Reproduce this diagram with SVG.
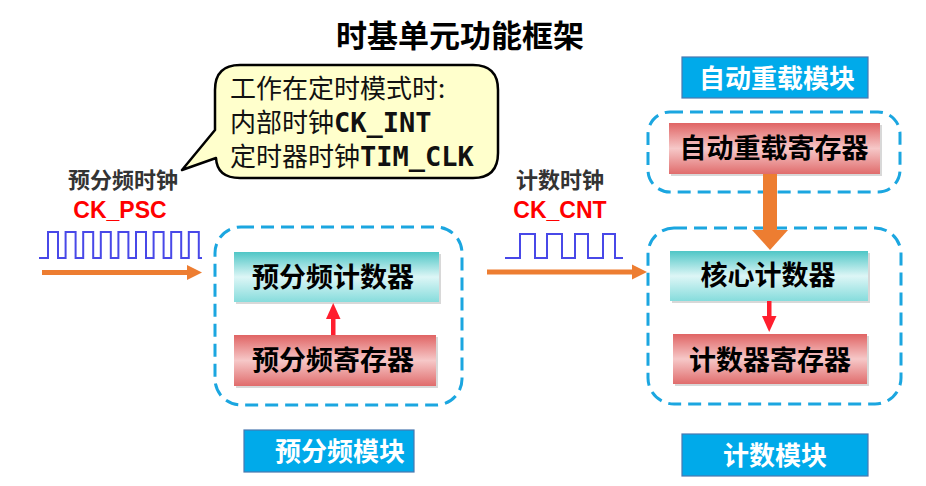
<svg xmlns="http://www.w3.org/2000/svg" width="926" height="486" viewBox="0 0 926 486">
<defs>
<linearGradient id="gCyan" x1="0" y1="0" x2="0" y2="1">
<stop offset="0" stop-color="#4FC6C6"/>
<stop offset="0.5" stop-color="#DDF6F6"/>
<stop offset="1" stop-color="#86DCDC"/>
</linearGradient>
<linearGradient id="gPink" x1="0" y1="0" x2="0" y2="1">
<stop offset="0" stop-color="#E06464"/>
<stop offset="0.5" stop-color="#F6C8C8"/>
<stop offset="1" stop-color="#E06C6C"/>
</linearGradient>
<style>
.title{font-family:"Noto Sans CJK SC","Noto Sans",sans-serif;font-weight:700;font-size:31px;fill:#000}
.box{font-family:"Noto Sans CJK SC","Noto Sans",sans-serif;font-weight:700;font-size:27px;fill:#000;text-anchor:middle}
.lbl{font-family:"Noto Sans CJK SC","Noto Sans",sans-serif;font-weight:700;font-size:26px;fill:#fff;text-anchor:middle}
.clk{font-family:"Noto Sans CJK SC","Noto Sans",sans-serif;font-weight:700;font-size:22px;fill:#333;text-anchor:middle}
.sig{font-family:"Liberation Sans",Arial,sans-serif;font-weight:700;font-size:23px;fill:#FF0000;text-anchor:middle}
.note{font-family:"Noto Sans CJK SC","Noto Sans",sans-serif;font-weight:400;font-size:26px;fill:#111}
.mono{font-family:"DejaVu Sans Mono","Liberation Mono",monospace;font-weight:700;font-size:27px}
.dash{fill:none;stroke:#1BA6E0;stroke-width:3;stroke-dasharray:13 7}
.shadow{fill:#D8D8D8}
.cyan{fill:url(#gCyan)}
.pink{fill:url(#gPink)}
.tag{fill:#00AAEA;stroke:#4A78B0;stroke-width:1.2}
.wave{fill:none;stroke:#4848E8;stroke-width:2}
.orange{fill:#ED7D31}
.red{fill:#FF1E2E}
</style>
</defs>
<rect width="926" height="486" fill="#fff"/>
<text class="title" x="460" y="47" text-anchor="middle">时基单元功能框架</text>

<g id="callout">
<path d="M240,65 H473 Q498,65 498,90 V153 Q498,178 473,178 H240 Q217,178 216,158 L182,170 L215,130 V90 Q215,65 240,65 Z" fill="#FFFFCC" stroke="#000" stroke-width="2.5" stroke-linejoin="round"/>
<text class="note" x="230" y="98">工作在定时模式时:</text>
<text class="note" x="230" y="132">内部时钟<tspan class="mono">CK_INT</tspan></text>
<text class="note" x="230" y="166">定时器时钟<tspan class="mono">TIM_CLK</tspan></text>
</g>

<g id="psc-clock">
<text class="clk" x="123" y="188">预分频时钟</text>
<text class="sig" x="120" y="218">CK_PSC</text>
<path class="wave" d="M39,258 H48 V232 H58 V258 H65.6 V232 H75.6 V258 H83.2 V232 H93.2 V258 H100.8 V232 H110.8 V258 H118.4 V232 H128.4 V258 H136 V232 H146 V258 H153.6 V232 H163.6 V258 H171.2 V232 H181.2 V258 H188.8 V232 H198.8 V258 H202"/>
</g>

<g id="cnt-clock">
<text class="clk" x="560" y="188">计数时钟</text>
<text class="sig" x="560" y="218">CK_CNT</text>
<path class="wave" d="M505,258 H520 V234 H535 V258 H547 V234 H562 V258 H575 V234 H588 V258 H603 V234 H615 V258 H623"/>
</g>

<g id="psc-module">
<rect class="dash" x="215" y="227" width="247" height="178" rx="26"/>
</g>
<g id="psc-counter">
<rect class="shadow" x="236" y="254" width="205" height="50"/>
<rect class="cyan" x="234" y="252" width="205" height="50"/>
<text class="box" x="333" y="287">预分频计数器</text>
</g>
<g id="psc-register">
<rect class="shadow" x="236" y="337" width="202" height="51"/>
<rect class="pink" x="234" y="335" width="202" height="51"/>
<text class="box" x="333" y="370">预分频寄存器</text>
</g>
<g id="psc-tag">
<rect class="tag" x="244" y="430" width="170" height="42"/>
<text class="lbl" x="340" y="461">预分频模块</text>
</g>

<g id="arr-module">
<rect class="dash" x="648" y="112" width="252" height="80" rx="22"/>
</g>
<g id="arr-register">
<rect class="shadow" x="671" y="125" width="211" height="51"/>
<rect class="pink" x="669" y="123" width="211" height="51"/>
<text class="box" x="774" y="158">自动重载寄存器</text>
</g>
<g id="arr-tag">
<rect class="tag" x="682" y="57" width="186" height="41"/>
<text class="lbl" x="777" y="88">自动重载模块</text>
</g>

<g id="cnt-module">
<rect class="dash" x="648" y="228" width="253" height="176" rx="26"/>
</g>
<g id="core-counter">
<rect class="shadow" x="672" y="253" width="198" height="50"/>
<rect class="cyan" x="670" y="251" width="198" height="50"/>
<text class="box" x="768" y="285">核心计数器</text>
</g>
<g id="cnt-register">
<rect class="shadow" x="675" y="336" width="194" height="50"/>
<rect class="pink" x="673" y="334" width="194" height="50"/>
<text class="box" x="770" y="370">计数器寄存器</text>
</g>
<g id="cnt-tag">
<rect class="tag" x="682" y="434" width="186" height="42"/>
<text class="lbl" x="775" y="465">计数模块</text>
</g>

<g id="connectors">
<rect class="orange" x="42" y="270" width="146" height="5"/>
<polygon class="orange" points="187,265 202,272.5 187,280"/>
<rect class="orange" x="487" y="269.5" width="146" height="5"/>
<polygon class="orange" points="632,264.5 647,272 632,279.5"/>
<rect class="orange" x="763" y="174" width="14" height="57"/>
<polygon class="orange" points="752,230 788,230 770,250"/>
<rect class="red" x="331" y="316" width="4.5" height="19"/>
<polygon class="red" points="326,319 333.2,303 340.5,319"/>
<rect class="red" x="767" y="301" width="4.5" height="17"/>
<polygon class="red" points="762,316 776.5,316 769.2,332"/>
</g>
</svg>
